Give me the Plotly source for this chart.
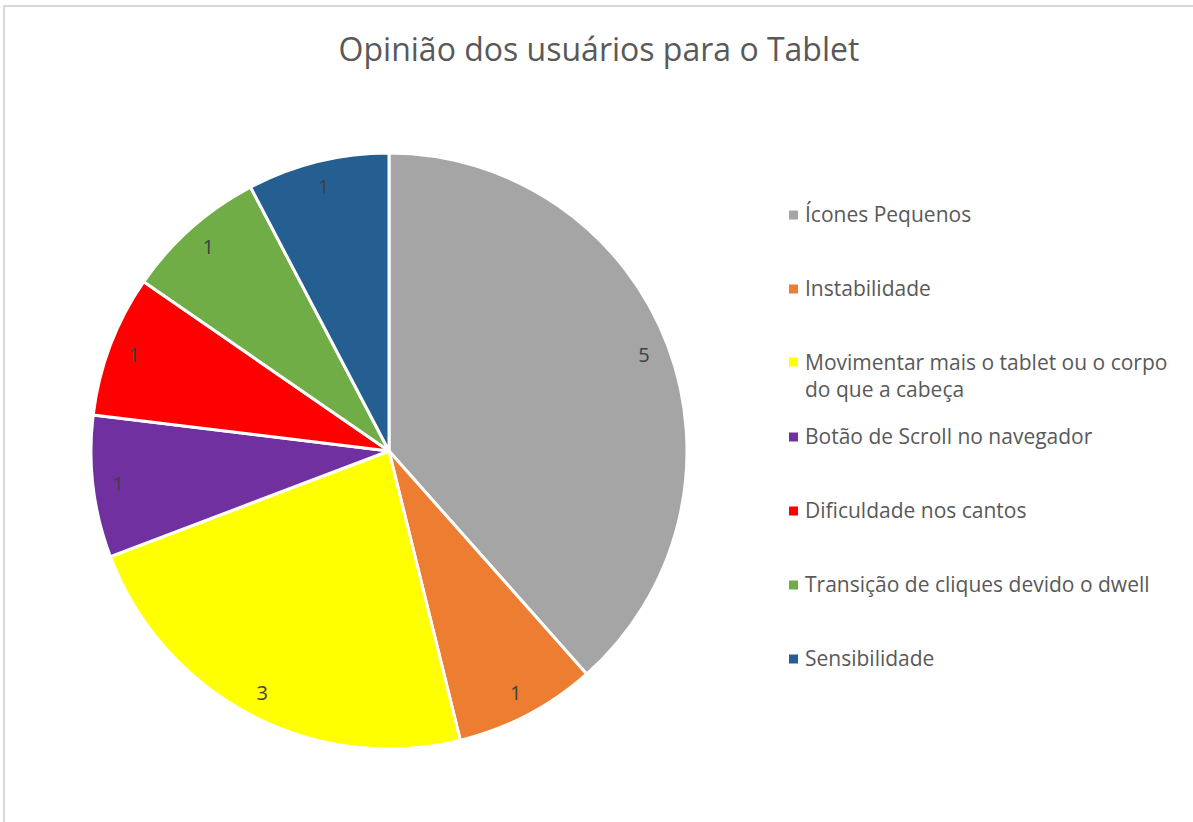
import plotly.graph_objects as go

title_text = "Opinião dos usuários para o Tablet"
labels = ["Ícones Pequenos", "Instabilidade", "Movimentar mais o tablet ou o corpo<br>do que a cabeça",
          "Botão de Scroll no navegador", "Dificuldade nos cantos",
          "Transição de cliques devido o dwell", "Sensibilidade"]
values = [5, 1, 3, 1, 1, 1, 1]
colors = ["#A5A5A5", "#ED7D31", "#FFFF00", "#7030A0", "#FF0000", "#70AD47", "#255E91"]

W, H = 1193, 822
FONT = "Open Sans"
dom = dict(x=[91 / W, 687 / W], y=[1 - 749 / H, 1 - 153 / H])

fig = go.Figure()
fig.add_trace(go.Pie(
    labels=labels, values=values, sort=False, direction="clockwise", rotation=0,
    marker=dict(colors=colors, line=dict(color="white", width=3)),
    textinfo="none", domain=dom, showlegend=False, hoverinfo="label+value",
))
# transparent ring overlay to position value labels near the outer edge
fig.add_trace(go.Pie(
    labels=labels, values=values, sort=False, direction="clockwise", rotation=0, hole=0.83,
    marker=dict(colors=["rgba(0,0,0,0)"] * len(values), line=dict(width=0)),
    textinfo="value", textposition="inside", insidetextorientation="horizontal",
    textfont=dict(family=FONT, size=20, color="#404040"),
    domain=dom, showlegend=False, hoverinfo="skip",
))

# legend drawn manually
leg_y = [215, 289, 362, 437, 511, 585, 659]
for lab, col, yc in zip(labels, colors, leg_y):
    fig.add_shape(type="rect", xref="paper", yref="paper",
                  x0=789 / W, x1=798 / W, y0=1 - (yc + 4.5) / H, y1=1 - (yc - 4.5) / H,
                  fillcolor=col, line=dict(width=0))
    off = 16 if "<br>" in lab else 17
    fig.add_annotation(text=lab, xref="paper", yref="paper", x=803 / W, y=1 - (yc - off) / H,
                       xanchor="left", yanchor="top", showarrow=False, align="left",
                       font=dict(family=FONT, size=21, color="#595959"))

# chart border
fig.add_shape(type="rect", xref="paper", yref="paper", x0=4 / W, y0=-0.05, x1=1.05, y1=1 - 6 / H,
              line=dict(color="#D9D9D9", width=2), fillcolor="rgba(0,0,0,0)")

fig.update_layout(
    width=W, height=H, margin=dict(l=0, r=0, t=0, b=0),
    paper_bgcolor="white", plot_bgcolor="white",
    title=dict(text=title_text, x=599 / W, xanchor="center", y=1 - 50 / H, yanchor="middle",
               font=dict(family=FONT, size=32, color="#595959")),
)
fig.write_html("out.html", config={"displayModeBar": False},
               post_script="document.body.style.margin='0';")
